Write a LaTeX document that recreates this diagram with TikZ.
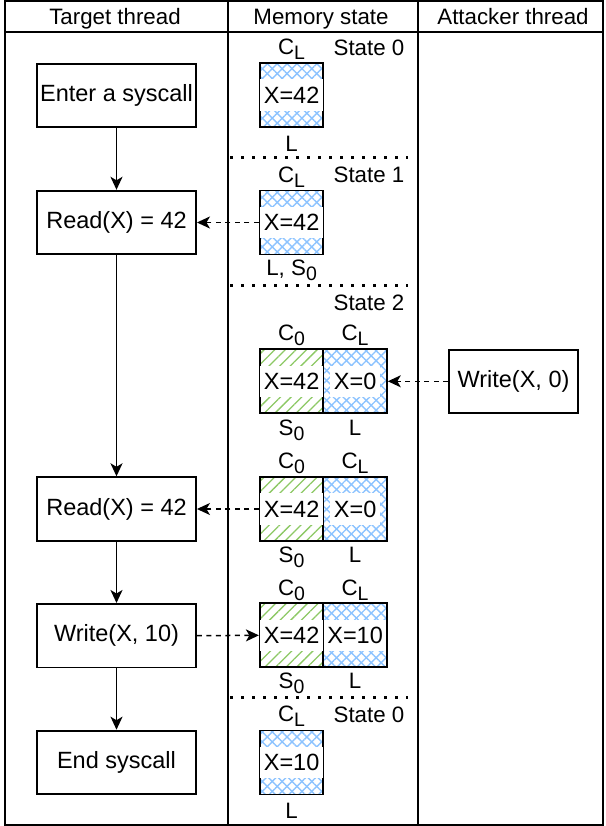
\documentclass[tikz,border=0pt]{standalone}
\usepackage{fontspec}
\setmainfont{Liberation Sans}
\usetikzlibrary{arrows.meta,patterns.meta}
\definecolor{hblue}{RGB}{140,195,255}
\definecolor{hgreen}{RGB}{140,200,100}
\newcommand\lsub[1]{\raisebox{-5pt}{\fontsize{19.5}{19.5}\selectfont #1}}
\begin{document}
\begin{tikzpicture}[x=1pt,y=-1pt,
  proc/.style={draw, line width=1.9pt, minimum width=159pt, minimum height=63.5pt, inner sep=0pt, font=\fontsize{23.5}{28}\selectfont},
  bluecell/.style={draw, line width=1.9pt, minimum width=63.5pt, minimum height=64pt, inner sep=0pt,
     preaction={pattern={Lines[angle=45,distance=7pt,line width=1.4pt]}, pattern color=hblue},
     pattern={Lines[angle=-45,distance=7pt,line width=1.4pt]}, pattern color=hblue},
  greencell/.style={draw, line width=1.9pt, minimum width=63.5pt, minimum height=64pt, inner sep=0pt,
     pattern={Lines[angle=45,distance=7.5pt,line width=1.3pt]}, pattern color=hgreen},
  val/.style={fill=white, inner xsep=3.5pt, inner ysep=4.8pt, text height=19pt, text depth=3pt, font=\fontsize{23.5}{28}\selectfont},
  lab/.style={anchor=base, inner sep=0pt, font=\fontsize{22.3}{26}\selectfont},
  frame/.style={line width=1.9pt},
  sepline/.style={line width=3pt, dash pattern=on 2.8pt off 8.2pt},
  sarrow/.style={line width=1.6pt, -{Stealth[length=13pt,width=12pt,inset=3.5pt]}},
  darrow/.style={line width=1.5pt, dash pattern=on 5pt off 4.5pt, -{Stealth[length=13pt,width=12pt,inset=3.5pt]}}
]
\useasboundingbox (0,0) rectangle (605,826);
% frame
\draw[frame] (5,1) rectangle (603,825);
\draw[frame] (5,32) -- (603,32);
\draw[frame] (228,1) -- (228,825);
\draw[frame] (418,1) -- (418,825);
\node[lab] (h1) at (115,25) {Target thread};
\node[lab] (h2) at (321,25) {Memory state};
\node[lab] (h3) at (513,25) {Attacker thread};
% separators
\draw[sepline] (230,157.5) -- (408,157.5);
\draw[sepline] (230,285) -- (408,285);
\draw[sepline] (230,697) -- (408,697);
% target thread
\node[proc] (enter) at (116.5,95.5) {Enter a syscall};
\node[proc] (read1) at (116.5,222.5) {Read(X) = 42};
\node[proc] (read2) at (116.5,509) {Read(X) = 42};
\node[proc] (write) at (116.5,635.7) {Write(X, 10)};
\node[proc] (endsc) at (116.5,762.4) {End syscall};
% attacker
\node[proc, minimum width=129pt] (w0) at (513.5,381.3) {Write(X, 0)};
% state 0
\node[bluecell] (m0) at (291.6,95.3) {};
\node[val] (m0t) at (291.6,95.3) {X=42};
\node[lab] (m0c) at (291.6,55) {C\lsub{L}};
\node[lab] (m0s) at (369,56) {State 0};
\node[lab] (m0b) at (291.6,152) {L};
% state 1
\node[bluecell] (m1) at (291.6,222.5) {};
\node[val] (m1t) at (291.6,222.5) {X=42};
\node[lab] (m1c) at (291.6,183) {C\lsub{L}};
\node[lab] (m1s) at (369,183) {State 1};
\node[lab] (m1b) at (291.6,275) {L, S\lsub{0}};
% state 2
\node[lab] (m2s) at (369,310) {State 2};
\node[greencell] (p1l) at (291.6,381.3) {};
\node[bluecell] (p1r) at (355.1,381.3) {};
\node[val] (p1lt) at (291.6,381.3) {X=42};
\node[val] (p1rt) at (355.1,381.3) {X=0};
\node[lab] (p1c0) at (291.6,340) {C\lsub{0}};
\node[lab] (p1cl) at (355.1,340) {C\lsub{L}};
\node[lab] (p1s0) at (291.6,435) {S\lsub{0}};
\node[lab] (p1l0) at (355.1,435) {L};
% pair 2
\node[greencell] (p2l) at (291.6,509) {};
\node[bluecell] (p2r) at (355.1,509) {};
\node[val] (p2lt) at (291.6,509) {X=42};
\node[val] (p2rt) at (355.1,509) {X=0};
\node[lab] (p2c0) at (291.6,468) {C\lsub{0}};
\node[lab] (p2cl) at (355.1,468) {C\lsub{L}};
\node[lab] (p2s0) at (291.6,562) {S\lsub{0}};
\node[lab] (p2l0) at (355.1,562) {L};
% pair 3
\node[greencell] (p3l) at (291.6,635.3) {};
\node[bluecell] (p3r) at (355.1,635.3) {};
\node[val] (p3lt) at (291.6,635.3) {X=42};
\node[val] (p3rt) at (355.1,635.3) {X=10};
\node[lab] (p3c0) at (291.6,595) {C\lsub{0}};
\node[lab] (p3cl) at (355.1,595) {C\lsub{L}};
\node[lab] (p3s0) at (291.6,688) {S\lsub{0}};
\node[lab] (p3l0) at (355.1,688) {L};
% final state 0
\node[bluecell] (m5) at (291.6,762.5) {};
\node[val] (m5t) at (291.6,762.5) {X=10};
\node[lab] (m5c) at (291.6,721) {C\lsub{L}};
\node[lab] (m5s) at (369,722) {State 0};
\node[lab] (m5b) at (291.6,818) {L};
% arrows
\draw[sarrow] (enter) -- (read1);
\draw[sarrow] (read1) -- (read2);
\draw[sarrow] (read2) -- (write);
\draw[sarrow] (write) -- (endsc);
\draw[darrow] (m1.west) -- (read1.east);
\draw[darrow] (w0.west) -- (p1r.east);
\draw[darrow] (p2l.west) -- (read2.east);
\draw[darrow] (write.east) -- (p3l.west);
\end{tikzpicture}
\end{document}
